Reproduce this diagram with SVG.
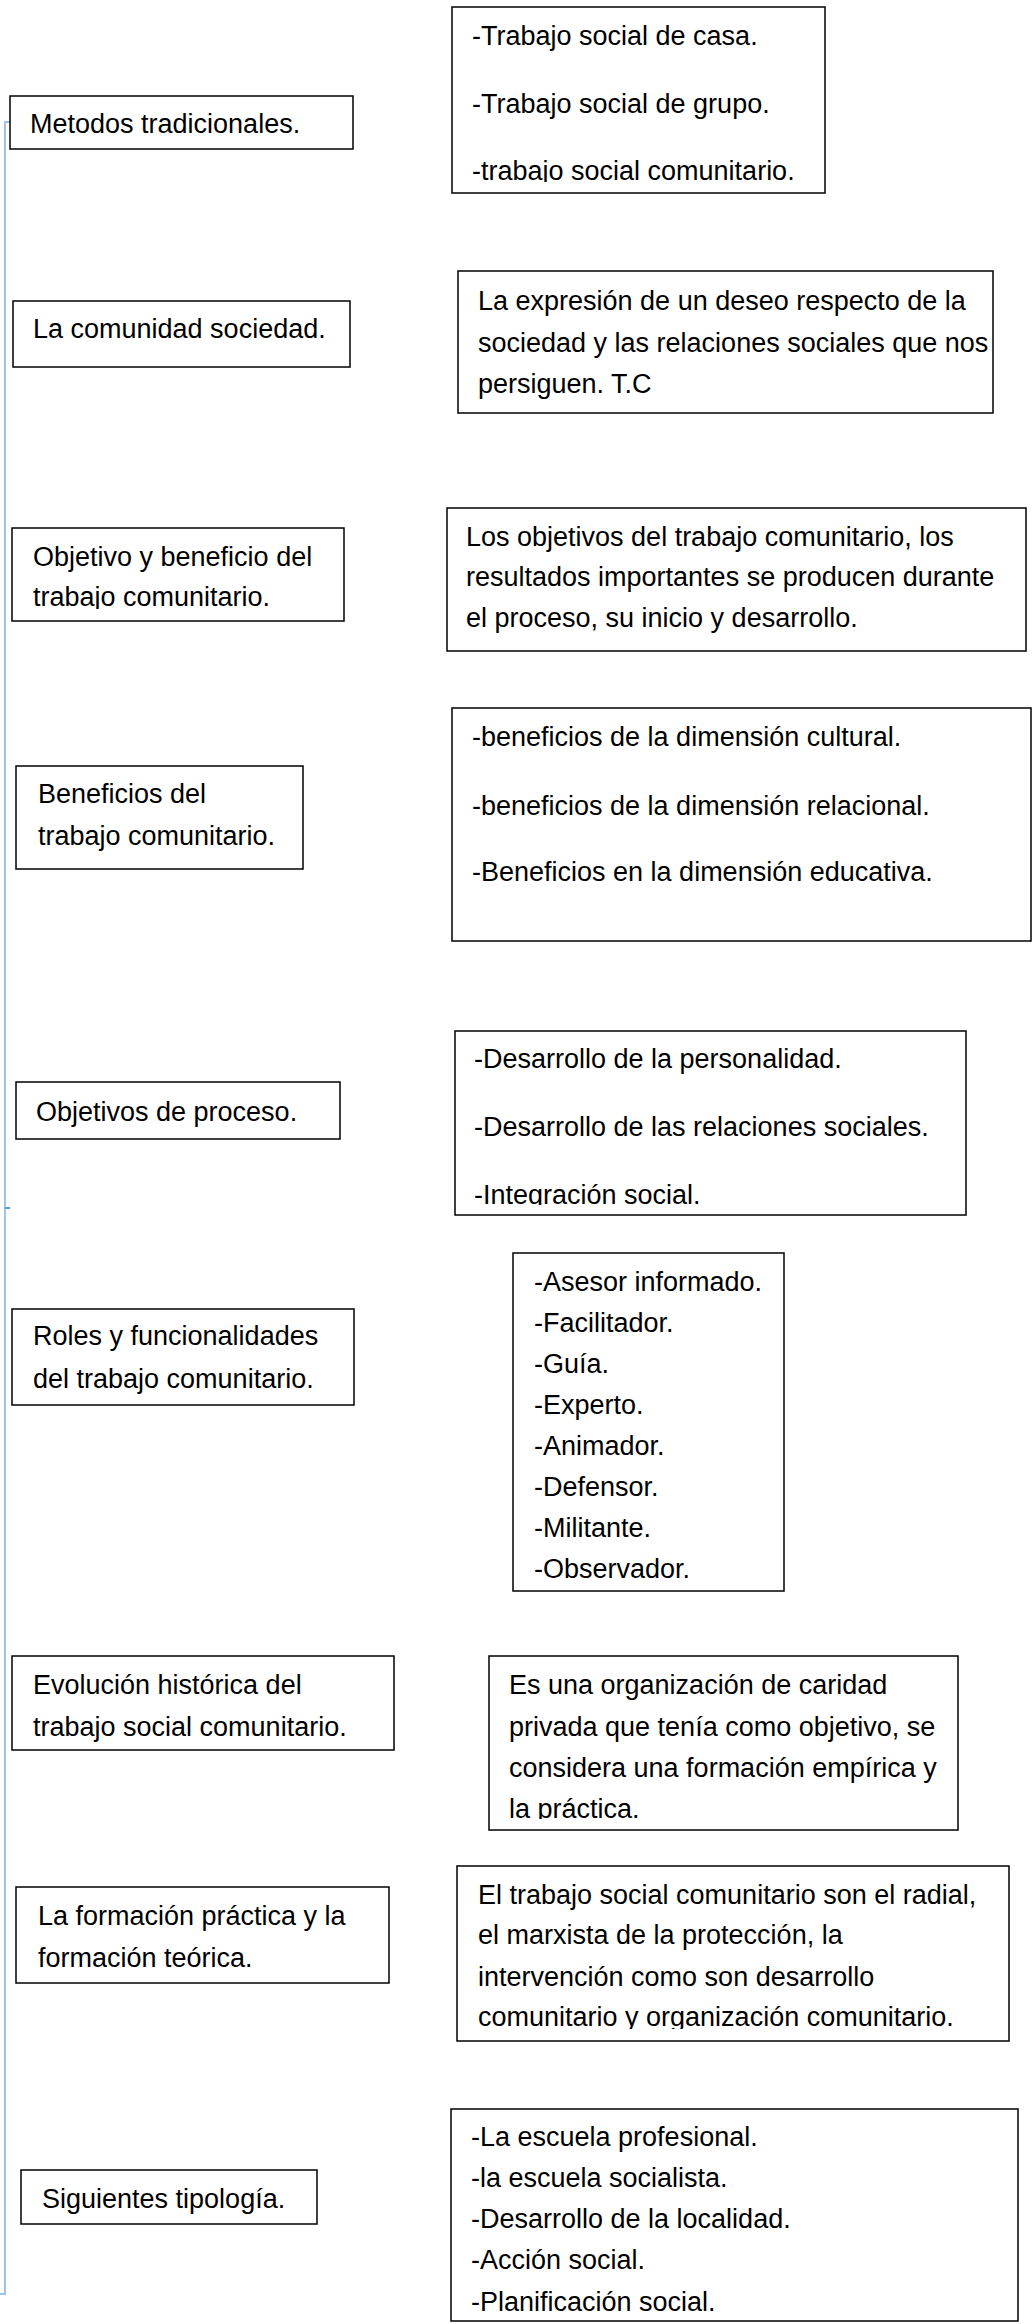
<svg xmlns="http://www.w3.org/2000/svg" width="1033" height="2324" viewBox="0 0 1033 2324">
<style>
.box{fill:#fff;stroke:#000;stroke-width:1.5}
.t{font-family:"Liberation Sans",Arial,sans-serif;font-size:27px;fill:#000}
.br{fill:none;stroke:#9dc3e6;stroke-width:2}
.tick{fill:none;stroke:#5b9bd5;stroke-width:2}
</style>
<defs>
<clipPath id="cB"><rect x="452" y="7" width="373" height="175"/></clipPath>
<clipPath id="cE"><rect x="12" y="528" width="332" height="81"/></clipPath>
<clipPath id="cH"><rect x="452" y="708" width="579" height="225"/></clipPath>
<clipPath id="cJ"><rect x="455" y="1031" width="511" height="174"/></clipPath>
<clipPath id="cN"><rect x="489" y="1656" width="469" height="163"/></clipPath>
<clipPath id="cP"><rect x="457" y="1866" width="552" height="163"/></clipPath>
</defs>
<g id="connectors">
<path class="br" d="M13,122 H5 V2294 H0"/>
<path class="tick" d="M5,1208 H10"/>
</g>
<g id="metodos">
<rect class="box" x="10" y="96" width="343" height="53"/>
<text class="t" x="30" y="133">Metodos tradicionales.</text>
</g>
<g id="metodos-list">
<rect class="box" x="452" y="7" width="373" height="186"/>
<g clip-path="url(#cB)">
<text class="t" x="472" y="45">-Trabajo social de casa.</text>
<text class="t" x="472" y="113">-Trabajo social de grupo.</text>
<text class="t" x="472" y="180">-trabajo social comunitario.</text>
</g>
</g>
<g id="comunidad">
<rect class="box" x="13" y="301" width="337" height="66"/>
<text class="t" x="33" y="338">La comunidad sociedad.</text>
</g>
<g id="comunidad-def">
<rect class="box" x="458" y="271" width="535" height="142"/>
<text class="t" x="478" y="310">La expresión de un deseo respecto de la</text>
<text class="t" x="478" y="352">sociedad y las relaciones sociales que nos</text>
<text class="t" x="478" y="393">persiguen. T.C</text>
</g>
<g id="objetivo">
<rect class="box" x="12" y="528" width="332" height="93"/>
<g clip-path="url(#cE)">
<text class="t" x="33" y="566">Objetivo y beneficio del</text>
<text class="t" x="33" y="606">trabajo comunitario.</text>
</g>
</g>
<g id="objetivo-def">
<rect class="box" x="447" y="508" width="579" height="143"/>
<text class="t" x="466" y="546">Los objetivos del trabajo comunitario, los</text>
<text class="t" x="466" y="586">resultados importantes se producen durante</text>
<text class="t" x="466" y="627">el proceso, su inicio y desarrollo.</text>
</g>
<g id="beneficios">
<rect class="box" x="16" y="766" width="287" height="103"/>
<text class="t" x="38" y="803">Beneficios del</text>
<text class="t" x="38" y="845">trabajo comunitario.</text>
</g>
<g id="beneficios-list">
<rect class="box" x="452" y="708" width="579" height="233"/>
<g clip-path="url(#cH)">
<text class="t" x="472" y="746">-beneficios de la dimensión cultural.</text>
<text class="t" x="472" y="815">-beneficios de la dimensión relacional.</text>
<text class="t" x="472" y="881">-Beneficios en la dimensión educativa.</text>
</g>
</g>
<g id="objetivos-proceso">
<rect class="box" x="16" y="1082" width="324" height="57"/>
<text class="t" x="36" y="1121">Objetivos de proceso.</text>
</g>
<g id="objetivos-proceso-list">
<rect class="box" x="455" y="1031" width="511" height="184"/>
<g clip-path="url(#cJ)">
<text class="t" x="474" y="1068">-Desarrollo de la personalidad.</text>
<text class="t" x="474" y="1136">-Desarrollo de las relaciones sociales.</text>
<text class="t" x="474" y="1204">-Integración social.</text>
</g>
</g>
<g id="roles">
<rect class="box" x="12" y="1309" width="342" height="96"/>
<text class="t" x="33" y="1345">Roles y funcionalidades</text>
<text class="t" x="33" y="1388">del trabajo comunitario.</text>
</g>
<g id="roles-list">
<rect class="box" x="513" y="1253" width="271" height="338"/>
<text class="t" x="534" y="1291">-Asesor informado.</text>
<text class="t" x="534" y="1332">-Facilitador.</text>
<text class="t" x="534" y="1373">-Guía.</text>
<text class="t" x="534" y="1414">-Experto.</text>
<text class="t" x="534" y="1455">-Animador.</text>
<text class="t" x="534" y="1496">-Defensor.</text>
<text class="t" x="534" y="1537">-Militante.</text>
<text class="t" x="534" y="1578">-Observador.</text>
</g>
<g id="evolucion">
<rect class="box" x="12" y="1656" width="382" height="94"/>
<text class="t" x="33" y="1694">Evolución histórica del</text>
<text class="t" x="33" y="1736">trabajo social comunitario.</text>
</g>
<g id="evolucion-def">
<rect class="box" x="489" y="1656" width="469" height="174"/>
<g clip-path="url(#cN)">
<text class="t" x="509" y="1694">Es una organización de caridad</text>
<text class="t" x="509" y="1736">privada que tenía como objetivo, se</text>
<text class="t" x="509" y="1777">considera una formación empírica y</text>
<text class="t" x="509" y="1818">la práctica.</text>
</g>
</g>
<g id="formacion">
<rect class="box" x="16" y="1887" width="373" height="96"/>
<text class="t" x="38" y="1925">La formación práctica y la</text>
<text class="t" x="38" y="1967">formación teórica.</text>
</g>
<g id="formacion-def">
<rect class="box" x="457" y="1866" width="552" height="175"/>
<g clip-path="url(#cP)">
<text class="t" x="478" y="1904">El trabajo social comunitario son el radial,</text>
<text class="t" x="478" y="1944">el marxista de la protección, la</text>
<text class="t" x="478" y="1986">intervención como son desarrollo</text>
<text class="t" x="478" y="2026">comunitario y organización comunitario.</text>
</g>
</g>
<g id="tipologia">
<rect class="box" x="21" y="2170" width="296" height="54"/>
<text class="t" x="42" y="2208">Siguientes tipología.</text>
</g>
<g id="tipologia-list">
<rect class="box" x="451" y="2109" width="567" height="212"/>
<text class="t" x="471" y="2146">-La escuela profesional.</text>
<text class="t" x="471" y="2187">-la escuela socialista.</text>
<text class="t" x="471" y="2228">-Desarrollo de la localidad.</text>
<text class="t" x="471" y="2269">-Acción social.</text>
<text class="t" x="471" y="2311">-Planificación social.</text>
</g>
</svg>
